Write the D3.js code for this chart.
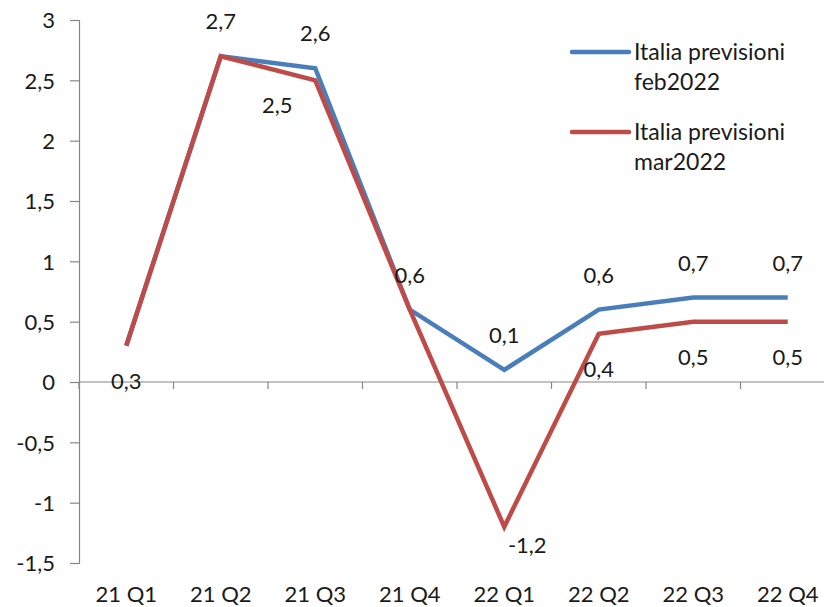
<!DOCTYPE html>
<html>
<head>
<meta charset="utf-8">
<script src="https://cdn.jsdelivr.net/npm/d3@7"></script>
<style>
  html, body { margin: 0; padding: 0; background: #fff; }
  svg { display: block; font-family: Lato, "Open Sans", sans-serif; }
</style>
</head>
<body>
<svg id="chart" width="824" height="607"></svg>
<script>
// ---- data ----
const categories = ["21 Q1", "21 Q2", "21 Q3", "21 Q4", "22 Q1", "22 Q2", "22 Q3", "22 Q4"];
const seriesNames = ["Italia previsioni feb2022", "Italia previsioni mar2022"];
const febValues = [0.3, 2.7, 2.6, 0.6, 0.1, 0.6, 0.7, 0.7];
const marValues = [0.3, 2.7, 2.5, 0.6, -1.2, 0.4, 0.5, 0.5];
// which data labels are shown, and where (above / below the point)
const febLabelPos = [null, "above", "above", "above", "above", "above", "above", "above"];
const marLabelPos = ["below", null, "below", null, "below", "below", "below", "below"];
const yTicks = [-1.5, -1, -0.5, 0, 0.5, 1, 1.5, 2, 2.5, 3];

// ---- layout ----
const colors = ["#4A7EBB", "#BE4B48"];
const textColor = "#1a1a1a";
const fs = 22;
const fmt = v => String(v).replace(".", ",");
const svg = d3.select("#chart");
const plotLeft = 79, plotRight = 835, plotTop = 20, plotBottom = 563;

const x = d3.scaleBand().domain(categories).range([plotLeft, plotRight]).paddingInner(0).paddingOuter(0);
const y = d3.scaleLinear().domain([-1.5, 3]).range([plotBottom, plotTop]);
const cx = c => x(c) + x.bandwidth() / 2;

// y axis
const yAxis = d3.axisLeft(y).tickValues(yTicks).tickSize(9).tickFormat(fmt);
const gy = svg.append("g").attr("transform", `translate(${plotLeft},0)`).call(yAxis);
gy.select(".domain").attr("stroke", "#868686").attr("stroke-width", 1.2);
gy.selectAll(".tick line").attr("stroke", "#868686").attr("stroke-width", 1.2);
gy.selectAll(".tick text").attr("x", -24).attr("dy", "0.35em")
  .attr("font-size", fs).attr("fill", textColor).attr("font-family", "Lato, sans-serif");

// x axis at zero, labels at bottom
const gx = svg.append("g").attr("transform", `translate(0,${y(0)})`);
gx.append("line").attr("x1", plotLeft).attr("x2", plotRight).attr("y1", 0).attr("y2", 0)
  .attr("stroke", "#868686").attr("stroke-width", 1.2);
const boundaries = categories.map(c => x(c) + x.bandwidth()).concat([x(categories[0])]);
gx.selectAll("line.tk").data(boundaries).enter().append("line").attr("class", "tk")
  .attr("x1", d => d).attr("x2", d => d).attr("y1", 0).attr("y2", 7)
  .attr("stroke", "#868686").attr("stroke-width", 1.2);
svg.append("g").selectAll("text").data(categories).enter().append("text")
  .attr("x", d => cx(d)).attr("y", 602).attr("text-anchor", "middle")
  .attr("font-size", fs).attr("fill", textColor).text(d => d);

// lines
const line = d3.line().x((d, i) => cx(categories[i])).y(d => y(d));
[febValues, marValues].forEach((vals, k) => {
  svg.append("path").datum(vals).attr("d", line).attr("fill", "none")
    .attr("stroke", colors[k]).attr("stroke-width", 4.5)
    .attr("stroke-linejoin", "miter").attr("stroke-linecap", "butt");
});

// data labels
const labelOffset = { above: -27, below: 43 };
const nudges = { "1-2": [-38, -10], "1-4": [23, -17] }; // series-index : [dx, dy]
[[febValues, febLabelPos], [marValues, marLabelPos]].forEach(([vals, pos], k) => {
  vals.forEach((v, i) => {
    if (!pos[i]) return;
    const n = nudges[`${k}-${i}`] || [0, 0];
    svg.append("text")
      .attr("x", cx(categories[i]) + n[0])
      .attr("y", y(v) + labelOffset[pos[i]] + n[1])
      .attr("text-anchor", "middle").attr("font-size", fs).attr("fill", textColor)
      .text(fmt(v));
  });
});

// legend
const legendY = [52, 132];
seriesNames.forEach((name, k) => {
  const g = svg.append("g");
  g.append("line").attr("x1", 572).attr("x2", 629).attr("y1", legendY[k]).attr("y2", legendY[k])
    .attr("stroke", colors[k]).attr("stroke-width", 4.5).attr("stroke-linecap", "round");
  const words = name.split(" ");
  const t = g.append("text").attr("x", 634).attr("y", legendY[k] + 8)
    .attr("font-size", 23).attr("fill", textColor);
  t.append("tspan").attr("x", 634).text(words.slice(0, 2).join(" "));
  t.append("tspan").attr("x", 634).attr("dy", 30).text(words.slice(2).join(" "));
});
</script>
</body>
</html>
